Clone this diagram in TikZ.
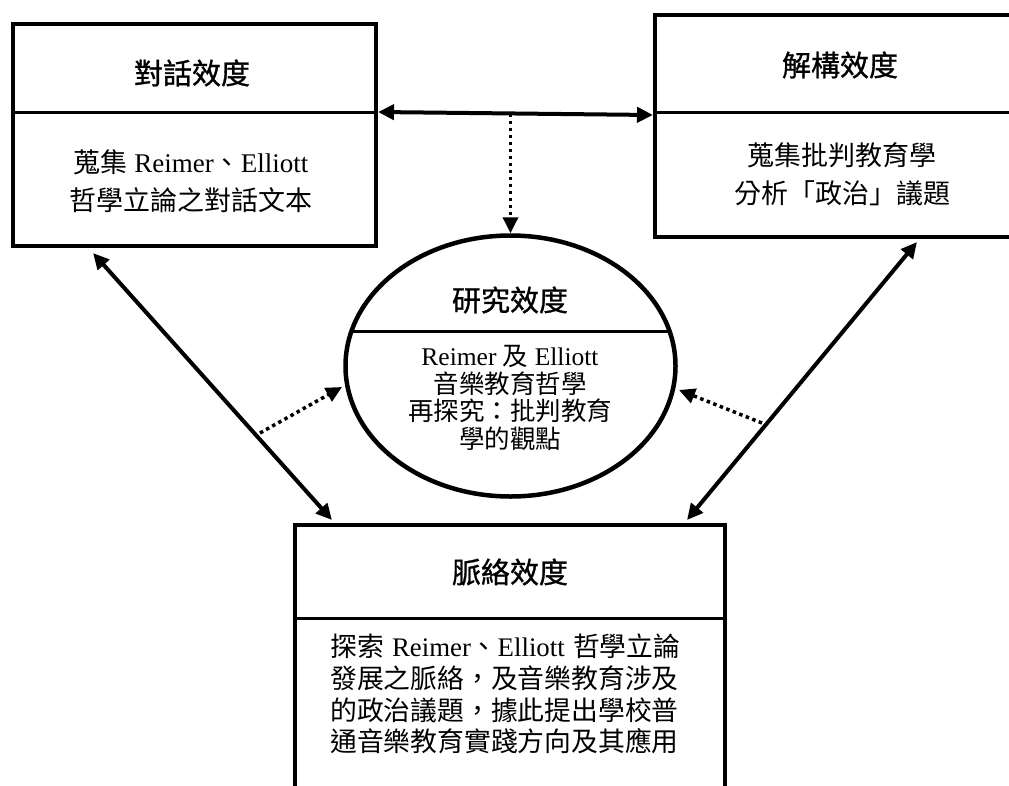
\documentclass[tikz,border=0pt]{standalone}
\usepackage{fontspec}
\setmainfont{Liberation Serif}
\newfontfamily\cjk{Noto Sans CJK TC}
\newfontfamily\cjkt{Noto Sans CJK TC}[FakeBold=1]
\newcommand{\zh}[1]{{\cjk #1}}
\usetikzlibrary{arrows.meta,shapes.geometric}
\tikzset{
  box/.style={draw, rectangle, line width=4.5pt, inner sep=0pt},
  ell/.style={draw, ellipse, line width=4.5pt, inner sep=0pt, minimum width=330pt, minimum height=261pt},
  divider/.style={line width=3pt},
  title/.style={font=\cjkt\fontsize{29}{34}\selectfont, inner sep=0pt},
  body/.style={font=\fontsize{27}{38}\selectfont, align=center, inner sep=0pt},
  arr/.style={line width=4pt, {Triangle[length=16pt,width=15pt]}-{Triangle[length=16pt,width=15pt]}},
  dotarr/.style={line width=3.5pt, dash pattern=on 3.5pt off 3.5pt, -{Triangle[length=16pt,width=15pt]}}
}
\begin{document}
\begin{tikzpicture}[x=1pt,y=-1pt]
\useasboundingbox (0,0) rectangle (1009,785);
\begin{scope}
\clip (0,0) rectangle (1009,785);
% boxes
\node[box, minimum width=363pt, minimum height=222pt] (L) at (194.5,135) {};
\node[box, minimum width=375pt, minimum height=222pt] (R) at (842.5,126) {};
\node[box, minimum width=430pt, minimum height=375pt] (B) at (510,712.5) {};
\node[ell] (E) at (510.5,366) {};
% dividers
\draw[divider] (13,112) -- (376,112);
\draw[divider] (655,112) -- (1030,112);
\draw[divider] (352,331) -- (669,331);
\draw[divider] (295,618) -- (725,618);
% titles
\node[title] (Lt) at (192,73) {對話效度};
\node[title] (Rt) at (840,65) {解構效度};
\node[title] (Et) at (510,300) {研究效度};
\node[title] (Bt) at (510,572) {脈絡效度};
% bodies
\node[body] (Lb) at (191,181) {\zh{蒐集} Reimer\zh{、}Elliott\\\zh{哲學立論之對話文本}};
\node[body] (Rb) at (842,174) {\zh{蒐集批判教育學}\\\zh{分析「政治」議題}};
\node[body, font=\fontsize{25.5}{27.5}\selectfont] (Eb) at (510,398) {Reimer \zh{及} Elliott\\\zh{音樂教育哲學}\\\zh{再探究：批判教育}\\\zh{學的觀點}};
\node[body, align=left, anchor=west, font=\fontsize{26.8}{31.7}\selectfont] (Bb) at (330,694) {\makebox[350pt][s]{\zh{探索} Reimer\zh{、}Elliott \zh{哲學立論}}\\\zh{發展之脈絡，及音樂教育涉及}\\\zh{的政治議題，據此提出學校普}\\\zh{通音樂教育實踐方向及其應用}};
% connector ends
\coordinate (LE) at (378,112);
\coordinate (RW) at (653,115);
\coordinate (M) at (510.5,113.5);
\coordinate (L1) at (93,253);
\coordinate (B1) at (332,520);
\coordinate (R1) at (917,242);
\coordinate (B2) at (687,520);
\coordinate (D1) at (260,433);
\coordinate (E1) at (342,387);
\coordinate (D2) at (762,423);
\coordinate (E2) at (679,390);
% connectors
\draw[arr] (LE) -- (RW);
\draw[dotarr] (M) -- (E.north);
\draw[arr] (L1) -- (B1);
\draw[arr] (R1) -- (B2);
\draw[dotarr] (D1) -- (E1);
\draw[dotarr] (D2) -- (E2);
\end{scope}
\end{tikzpicture}
\end{document}
